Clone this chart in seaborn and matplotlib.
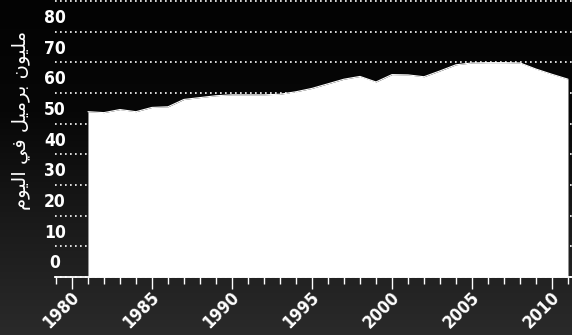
import numpy as np
import pandas as pd
import matplotlib
matplotlib.use("Agg")
import matplotlib.pyplot as plt
import matplotlib.transforms as mtransforms
from matplotlib import font_manager as fm
from matplotlib.colors import LinearSegmentedColormap
import seaborn as sns

# ---- data ----
years = list(range(1981, 2012))
values = [53.9, 53.6, 54.6, 53.9, 55.3, 55.5, 57.9, 58.5, 59.1, 59.4,
          59.4, 59.4, 59.6, 60.4, 61.5, 63.0, 64.5, 65.4, 63.6, 66.0,
          65.9, 65.3, 67.2, 69.2, 69.8, 69.9, 69.9, 69.8, 67.8, 66.1,
          64.5]
y_ticks = [0, 10, 20, 30, 40, 50, 60, 70, 80]
x_major = [1980, 1985, 1990, 1995, 2000, 2005, 2010]
# "مليون برميل في اليوم" in shaped Arabic presentation forms, visual order
y_title = ("\uFEE1\uFEEE\uFEF4\uFEDF\uFE8D \uFEF2\uFED3 "
           "\uFEDE\uFEF4\uFEE3\uFEAE\uFE91 \uFEE5\uFEEE\uFEF4\uFEE0\uFEE3")

df = pd.DataFrame({"year": years, "value": values})

sns.set_theme(style="dark")


def pick_font():
    cands = []
    for f in fm.fontManager.ttflist:
        st = str(f.stretch)
        w = f.weight if isinstance(f.weight, int) else 700 if "bold" in str(f.weight) else 400
        if f.name == "Liberation Sans Narrow" and w >= 600:
            cands.append((0, f.fname))
        elif f.name.startswith("DejaVu Sans") and ("condensed" in st or "Condensed" in f.fname) and w >= 600:
            cands.append((1, f.fname))
        elif f.name == "Liberation Sans Narrow":
            cands.append((2, f.fname))
    if cands:
        cands.sort()
        return fm.FontProperties(fname=cands[0][1]), True
    return fm.FontProperties(family="DejaVu Sans", weight="bold"), False


num_fp, narrow = pick_font()
fs = 12.5 if narrow else 11
num_fp.set_size(fs)

fig = plt.figure(figsize=(5.72, 3.35), dpi=100)

# background gradient
bg = fig.add_axes([0, 0, 1, 1], zorder=-10)
grad = np.linspace(0, 1, 256).reshape(-1, 1)
cmap = LinearSegmentedColormap.from_list("bg", ["#030303", "#070707", "#1a1a1a", "#2a2a2a"])
bg.imshow(grad, aspect="auto", cmap=cmap, extent=[0, 1, 0, 1], origin="upper")
bg.set_axis_off()

ax = fig.add_axes([55 / 572, 58 / 335, 517 / 572, 276 / 335])
ax.set_facecolor("none")

ax.set_xlim(1978.94, 2011.25)
ax.set_ylim(0, 90)

# gridlines
for v in y_ticks + [90]:
    ax.axhline(v, color="white", lw=1.2, ls=(0, (1, 2)), zorder=1, clip_on=False)

ax.fill_between(df["year"], df["value"], 0, color="white", lw=0, zorder=2)
sns.lineplot(data=df, x="year", y="value", color="white", lw=0.8, ax=ax, zorder=3)

for s in ["top", "right", "left"]:
    ax.spines[s].set_visible(False)
ax.spines["bottom"].set_color("white")
ax.spines["bottom"].set_linewidth(1.3)
ax.spines["bottom"].set_zorder(4)

ax.set_yticks([])
ax.set_xticks(x_major)
ax.set_xticks(range(1979, 2012), minor=True)
ax.tick_params(axis="x", which="both", bottom=True, direction="out", color="white")
ax.tick_params(axis="x", which="major", length=8.6, width=1, pad=4)
ax.tick_params(axis="x", which="minor", length=5, width=1)
ax.set_xticklabels([str(x) for x in x_major], rotation=45, ha="right",
                   va="center", rotation_mode="anchor", color="white",
                   fontproperties=num_fp)
off = mtransforms.ScaledTranslation(5 / 100, 0, fig.dpi_scale_trans)
for lab in ax.get_xticklabels():
    lab.set_transform(lab.get_transform() + off)
ax.set_xlabel("")
ax.set_ylabel("")

# y labels sitting above each gridline
yoff = mtransforms.ScaledTranslation(0, 4.5 / 100, fig.dpi_scale_trans)
trans = mtransforms.blended_transform_factory(ax.transAxes, ax.transData) + yoff
for v in y_ticks:
    ax.text(0, v, str(v), transform=trans, ha="center", va="bottom",
            color="white", fontproperties=num_fp)

fig.text(22 / 572, 1 - 120 / 335, y_title, rotation=90, ha="center", va="center",
         color="white", fontsize=14, family=["DejaVu Sans"])

fig.savefig("out.png", dpi=100)
